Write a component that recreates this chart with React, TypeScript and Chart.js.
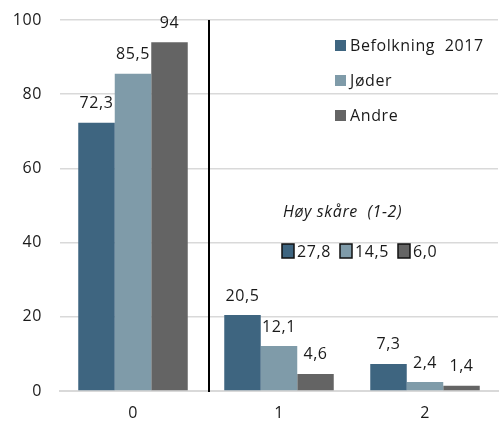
import React, { useEffect, useRef } from "react";
import { Chart, registerables } from "chart.js";

Chart.register(...registerables);

const categories = ["0", "1", "2"];
const seriesNames = ["Befolkning  2017", "Jøder", "Andre"];
const befolkning = [72.3, 20.5, 7.3];
const joder = [85.5, 12.1, 2.4];
const andre = [94, 4.6, 1.4];
const seriesColors = ["#3e6580", "#7f9ba9", "#646464"];
const highTitle = "Høy skåre  (1-2)";
const highValues = [27.8, 14.5, 6.0];
const yTicks = [0, 20, 40, 60, 80, 100];

const FONT = "'Open Sans', sans-serif";
const TEXT = "#1a1a1a";
const SPACING = "0.6px";

const fmt = (v: number) => String(v).replace(".", ",");
const fmt1 = (v: number) => v.toFixed(1).replace(".", ",");

const overlayPlugin = {
  id: "overlay",
  beforeDraw(chart: any) {
    chart.ctx.letterSpacing = SPACING;
  },
  afterDatasetsDraw(chart: any) {
    const ctx = chart.ctx;
    const area = chart.chartArea;
    const xs = chart.scales.x;
    ctx.save();
    ctx.letterSpacing = SPACING;
    // value labels
    ctx.font = `16px ${FONT}`;
    ctx.fillStyle = TEXT;
    ctx.textAlign = "center";
    ctx.textBaseline = "middle";
    chart.data.datasets.forEach((ds: any, di: number) => {
      const meta = chart.getDatasetMeta(di);
      meta.data.forEach((bar: any, i: number) => {
        ctx.fillText(fmt(ds.data[i]), bar.x, bar.y - 19);
      });
    });
    // separator line
    const sepX = (xs.getPixelForValue(0) + xs.getPixelForValue(1)) / 2 + 3;
    ctx.strokeStyle = "#000";
    ctx.lineWidth = 2;
    ctx.beginPath();
    ctx.moveTo(sepX, area.top);
    ctx.lineTo(sepX, area.bottom + 1);
    ctx.stroke();

    // legend
    const lx = area.left + 275;
    ctx.textAlign = "left";
    seriesNames.forEach((name, i) => {
      const cy = area.top + 25 + i * 35;
      ctx.fillStyle = seriesColors[i];
      ctx.fillRect(lx, cy - 5, 11, 11);
      ctx.fillStyle = TEXT;
      ctx.fillText(name, lx + 15, cy + 1);
    });

    // high score annotation
    ctx.font = `italic 16px ${FONT}`;
    ctx.fillStyle = TEXT;
    ctx.fillText(highTitle, area.left + 223, area.top + 192);
    ctx.font = `16px ${FONT}`;
    const offs = [222, 280, 338];
    highValues.forEach((v, i) => {
      const bx = area.left + offs[i];
      const cy = area.top + 231;
      ctx.fillStyle = seriesColors[i];
      ctx.fillRect(bx, cy - 7, 12, 14);
      ctx.strokeStyle = "#111";
      ctx.lineWidth = 1.5;
      ctx.strokeRect(bx, cy - 7, 12, 14);
      ctx.fillStyle = TEXT;
      ctx.fillText(fmt1(v), bx + 15, cy + 1);
    });
    ctx.restore();
  },
};

export default function App() {
  const ref = useRef<HTMLCanvasElement>(null);
  useEffect(() => {
    document.body.style.margin = "0";
    const chart = new Chart(ref.current!, {
      type: "bar",
      data: {
        labels: categories,
        datasets: [befolkning, joder, andre].map((d, i) => ({
          label: seriesNames[i],
          data: d,
          backgroundColor: seriesColors[i],
          categoryPercentage: 0.75,
          barPercentage: 1,
        })),
      },
      options: {
        animation: false,
        responsive: false,
        maintainAspectRatio: false,
        layout: { padding: { top: 20, right: 1, left: 0, bottom: 0 } },
        plugins: { legend: { display: false }, tooltip: { enabled: false } },
        scales: {
          x: {
            grid: { display: false },
            border: { display: true, color: "#d9d9d9", width: 2 },
            ticks: { color: TEXT, font: { family: FONT, size: 16 }, padding: 5 },
            afterFit: (s: any) => { s.height = 32; s.paddingLeft = 0; s.paddingRight = 0; },
          },
          y: {
            min: 0,
            max: 100,
            afterBuildTicks: (s: any) => { s.ticks = yTicks.map((v) => ({ value: v })); },
            grid: { color: "#d9d9d9", lineWidth: 1.5, drawTicks: false },
            border: { display: false },
            ticks: { color: TEXT, font: { family: FONT, size: 16 }, padding: 18 },
            afterFit: (s: any) => { s.width = 60; s.paddingTop = 0; s.paddingBottom = 0; },
          },
        },
      },
      plugins: [overlayPlugin],
    });
    return () => chart.destroy();
  }, []);
  return <canvas ref={ref} width={499} height={423} style={{ display: "block" }} />;
}
